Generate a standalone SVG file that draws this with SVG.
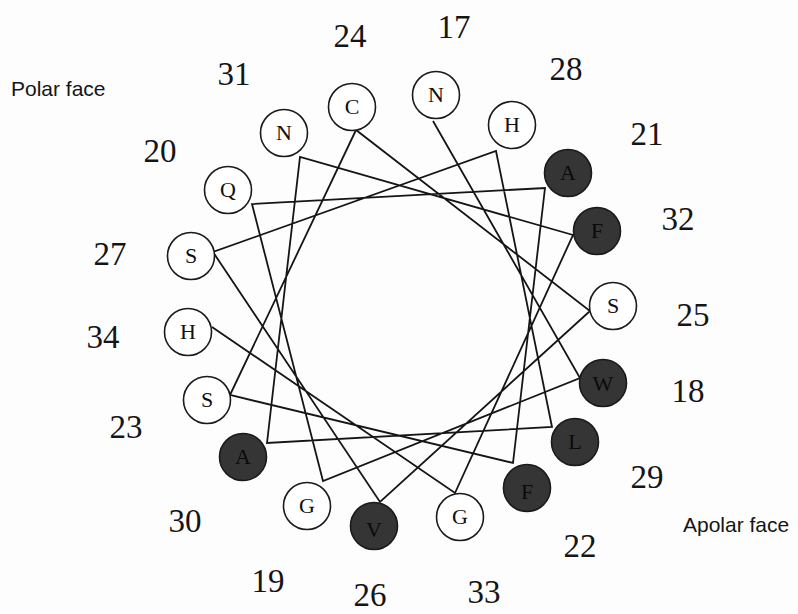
<svg xmlns="http://www.w3.org/2000/svg" width="798" height="614" viewBox="0 0 798 614">
<style>
.bg{fill:#fdfdfd}
.edge{fill:none;stroke:#151515;stroke-width:1.8;stroke-linejoin:miter}
.res circle{stroke:#1a1a1a;stroke-width:1.6}
.polar circle{fill:#ffffff}
.apolar circle{fill:#353535}
.res text{font-family:"Liberation Serif","Times New Roman",serif;font-size:22px;text-anchor:middle;fill:#111}
.apolar text{fill:#0a0a0a}
.num{font-family:"Liberation Serif","Times New Roman",serif;font-size:33px;text-anchor:middle;fill:#151515}
.face{font-family:"Liberation Sans",Arial,sans-serif;font-size:21px;fill:#151515}
</style>
<rect class="bg" x="0" y="0" width="798" height="614"/>
<g id="connectors">
<path class="edge" d="M433,121 L580,378 L323,481 L252,204 L545,188 L513,463 L230,395 L356,130 L590,311 L380,502 L213,252 L496,151 L552,427 L267,443 L300,157 L573,235 L455,493 L212,327"/>
</g>
<g id="res17" class="res polar"><circle cx="436" cy="95" r="23.5"/><text x="436" y="102">N</text></g>
<g id="res18" class="res apolar"><circle cx="603" cy="383" r="23.5"/><text x="603" y="391">W</text></g>
<g id="res19" class="res polar"><circle cx="307" cy="506" r="23.5"/><text x="307" y="513">G</text></g>
<g id="res20" class="res polar"><circle cx="228" cy="190" r="23.5"/><text x="228" y="197">Q</text></g>
<g id="res21" class="res apolar"><circle cx="568" cy="173" r="23.5"/><text x="568" y="180">A</text></g>
<g id="res22" class="res apolar"><circle cx="527" cy="488" r="23.5"/><text x="527" y="499">F</text></g>
<g id="res23" class="res polar"><circle cx="207" cy="400" r="23.5"/><text x="207" y="407">S</text></g>
<g id="res24" class="res polar"><circle cx="352" cy="107" r="23.5"/><text x="352" y="114">C</text></g>
<g id="res25" class="res polar"><circle cx="613" cy="306" r="23.5"/><text x="613" y="313">S</text></g>
<g id="res26" class="res apolar"><circle cx="374" cy="526" r="23.5"/><text x="374" y="537">V</text></g>
<g id="res27" class="res polar"><circle cx="191" cy="256" r="23.5"/><text x="191" y="263">S</text></g>
<g id="res28" class="res polar"><circle cx="512" cy="125" r="23.5"/><text x="512" y="132">H</text></g>
<g id="res29" class="res apolar"><circle cx="575" cy="442" r="23.5"/><text x="575" y="449">L</text></g>
<g id="res30" class="res apolar"><circle cx="243" cy="457" r="23.5"/><text x="243" y="464">A</text></g>
<g id="res31" class="res polar"><circle cx="284" cy="133" r="23.5"/><text x="284" y="140">N</text></g>
<g id="res32" class="res apolar"><circle cx="597" cy="231" r="23.5"/><text x="597" y="238">F</text></g>
<g id="res33" class="res polar"><circle cx="460" cy="517" r="23.5"/><text x="460" y="524">G</text></g>
<g id="res34" class="res polar"><circle cx="188" cy="332" r="23.5"/><text x="188" y="339">H</text></g>
<g id="numbers">
<text class="num" x="454" y="38">17</text>
<text class="num" x="688" y="402">18</text>
<text class="num" x="268" y="592">19</text>
<text class="num" x="160" y="162">20</text>
<text class="num" x="647" y="145">21</text>
<text class="num" x="580" y="557">22</text>
<text class="num" x="126" y="438">23</text>
<text class="num" x="350" y="47">24</text>
<text class="num" x="693" y="326">25</text>
<text class="num" x="370" y="606">26</text>
<text class="num" x="110" y="265">27</text>
<text class="num" x="566" y="80">28</text>
<text class="num" x="647" y="488">29</text>
<text class="num" x="185" y="532">30</text>
<text class="num" x="234" y="85">31</text>
<text class="num" x="678" y="230">32</text>
<text class="num" x="484" y="603">33</text>
<text class="num" x="103" y="348">34</text>
</g>
<text class="face" x="11" y="96">Polar face</text>
<text class="face" x="683" y="532">Apolar face</text>
</svg>
